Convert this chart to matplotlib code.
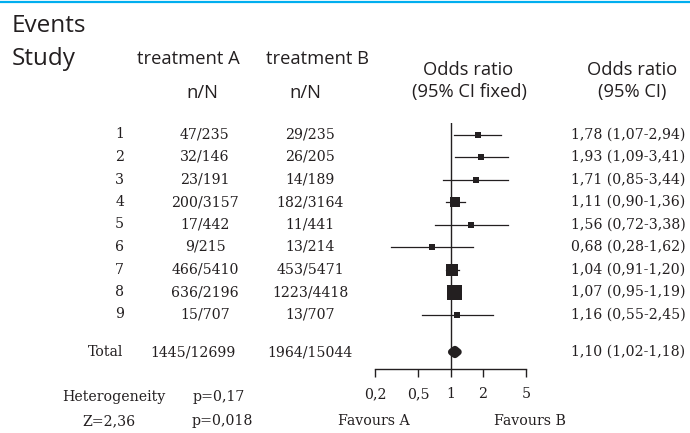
import matplotlib
matplotlib.use('Agg')
import matplotlib.pyplot as plt
import matplotlib.transforms as mtrans
from matplotlib.lines import Line2D
import numpy as np

# data
studies = ['1', '2', '3', '4', '5', '6', '7', '8', '9']
events_a = [47, 32, 23, 200, 17, 9, 466, 636, 15]
total_a = [235, 146, 191, 3157, 442, 215, 5410, 2196, 707]
events_b = [29, 26, 14, 182, 11, 13, 453, 1223, 13]
total_b = [235, 205, 189, 3164, 441, 214, 5471, 4418, 707]
odds = [1.78, 1.93, 1.71, 1.11, 1.56, 0.68, 1.04, 1.07, 1.16]
ci_low = [1.07, 1.09, 0.85, 0.90, 0.72, 0.28, 0.91, 0.95, 0.55]
ci_high = [2.94, 3.41, 3.44, 1.36, 3.38, 1.62, 1.20, 1.19, 2.45]
pooled = [1.10, 1.02, 1.18]
tick_vals = [0.2, 0.5, 1, 2, 5]
tick_labels = ['0,2', '0,5', '1', '2', '5']
heterogeneity_p = '0,17'
z_value = '2,36'
z_p = '0,018'

W, H = 690, 433
ink = '#231f20'
serif = 'DejaVu Serif'
sans = 'Open Sans'
fs = 10.2

fig = plt.figure(figsize=(W / 100, H / 100), dpi=100)

def fx(px):
    return px / W

def fy(py):
    return 1 - py / H

# cyan rule at top
fig.add_artist(Line2D([0, 1], [fy(2), fy(2)], color='#00aeef', lw=1.6,
                      transform=fig.transFigure))

# forest axes
top_px, bot_px = 123, 369
row0, step = 134.5, 22.5
ax = fig.add_axes([fx(375), fy(bot_px), fx(526 - 375), (bot_px - top_px) / H])
ax.set_xscale('log')
ax.set_xlim(0.2, 5)
ax.set_ylim((bot_px - row0) / step, (top_px - row0) / step)
for s in ['top', 'left', 'right']:
    ax.spines[s].set_visible(False)
ax.spines['bottom'].set_color(ink)
ax.spines['bottom'].set_linewidth(1.0)
ax.set_yticks([])
ax.xaxis.set_minor_locator(matplotlib.ticker.NullLocator())
ax.set_xticks(tick_vals)
ax.set_xticklabels(tick_labels, fontfamily=serif, fontsize=fs, color=ink)
ax.tick_params(axis='x', direction='out', length=6, width=1.0, color=ink, pad=7)
ax.patch.set_alpha(0)
ax.axvline(1, color=ink, lw=1.0)

# weights (inverse variance of log OR) for box sizes
ea, ta, eb, tb = map(np.array, (events_a, total_a, events_b, total_b))
var = 1 / ea + 1 / (ta - ea) + 1 / eb + 1 / (tb - eb)
w = 1 / var
side_px = 6.5 + 8.5 * w / w.max()

rows = np.arange(len(studies))
for i in rows:
    ax.plot([ci_low[i], ci_high[i]], [i, i], color=ink, lw=0.9)
    ax.plot(odds[i], i, marker='s', color=ink, ms=side_px[i] * 0.72, mew=0)

total_row = (352 - row0) / step
h = 0.12
ax.fill([pooled[1], pooled[0], pooled[2], pooled[0]],
        [total_row, total_row - h, total_row, total_row + h],
        color=ink, lw=5, ec=ink, joinstyle='round')

# text in rows: x in figure pixels, y in row units
tr = mtrans.blended_transform_factory(fig.transFigure, ax.transData)
st = dict(fontfamily=serif, fontsize=fs, color=ink, va='center', transform=tr)
for i in rows:
    fig.text(fx(124), i, studies[i], ha='right', **st)
    fig.text(fx(205), i, f'{events_a[i]}/{total_a[i]}', ha='center', **st)
    fig.text(fx(310), i, f'{events_b[i]}/{total_b[i]}', ha='center', **st)
    lab = f'{odds[i]:.2f} ({ci_low[i]:.2f}-{ci_high[i]:.2f})'.replace('.', ',')
    fig.text(fx(571), i, lab, ha='left', **st)

fig.text(fx(123), total_row, 'Total', ha='right', **st)
fig.text(fx(193), total_row, f'{sum(events_a)}/{sum(total_a)}', ha='center', **st)
fig.text(fx(310), total_row, f'{sum(events_b)}/{sum(total_b)}', ha='center', **st)
pl = f'{pooled[0]:.2f} ({pooled[1]:.2f}-{pooled[2]:.2f})'.replace('.', ',')
fig.text(fx(571), total_row, pl, ha='left', **st)

# bottom texts
bt = dict(fontfamily=serif, fontsize=fs, color=ink, va='center')
fig.text(fx(114), fy(397), 'Heterogeneity', ha='center', **bt)
fig.text(fx(193), fy(397), 'p=' + heterogeneity_p, ha='left', **bt)
fig.text(fx(109), fy(421), 'Z=' + z_value, ha='center', **bt)
fig.text(fx(192), fy(421), 'p=' + z_p, ha='left', **bt)
fig.text(fx(374), fy(421), 'Favours A', ha='center', **bt)
fig.text(fx(530), fy(421), 'Favours B', ha='center', **bt)

# headers
hd = dict(fontfamily=sans, color=ink, va='baseline')
fig.text(fx(12), fy(32), 'Events', ha='left', fontsize=17.5, **hd)
fig.text(fx(12), fy(65), 'Study', ha='left', fontsize=17.5, **hd)
fig.text(fx(188), fy(64), 'treatment A', ha='center', fontsize=13.2, **hd)
fig.text(fx(317), fy(64), 'treatment B', ha='center', fontsize=13.2, **hd)
fig.text(fx(202), fy(98), 'n/N', ha='center', fontsize=13.2, **hd)
fig.text(fx(305), fy(98), 'n/N', ha='center', fontsize=13.2, **hd)
fig.text(fx(468), fy(75), 'Odds ratio', ha='center', fontsize=13.2, **hd)
fig.text(fx(469), fy(97), '(95% CI fixed)', ha='center', fontsize=13.2, **hd)
fig.text(fx(632), fy(75), 'Odds ratio', ha='center', fontsize=13.2, **hd)
fig.text(fx(632), fy(97), '(95% CI)', ha='center', fontsize=13.2, **hd)

fig.savefig('out.png', dpi=100, facecolor='white')
